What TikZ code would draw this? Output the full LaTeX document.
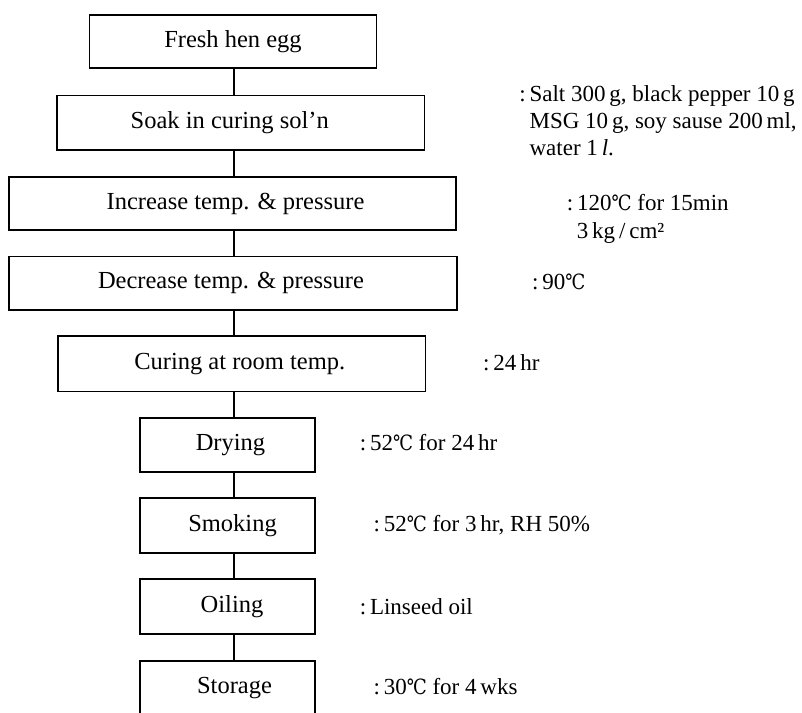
\documentclass[tikz,border=0pt]{standalone}
\usepackage{fontspec}
\usepackage{graphicx}
\setmainfont{Liberation Serif}
\newfontfamily\celsiusfont{DejaVu Serif}
\newcommand{\degC}{\scalebox{0.85}[1]{\celsiusfont\fontsize{21}{24}\selectfont ℃}}
\begin{document}
\begin{tikzpicture}[x=1pt,y=-1pt,
  flowbox/.style={draw, line width=1.4pt, inner sep=0pt, font=\fontsize{24.5}{28}\selectfont},
  conn/.style={line width=1.4pt},
  note/.style={inner sep=0pt, anchor=base west, align=left, font=\fontsize{23}{27.3}\selectfont}]
\useasboundingbox (0,0) rectangle (802,712);
\clip (0,0) rectangle (802,712);
\coordinate (cx) at (234,0);
% boxes
\node[flowbox, minimum width=287pt, minimum height=53pt] (fresh) at (233,41.5) {Fresh hen egg};
\node[flowbox, minimum width=367.5pt, minimum height=54.6pt] (soak) at (240.75,122.7) {Soak in curing sol’n\hspace*{22pt}};
\node[flowbox, minimum width=447pt, minimum height=53pt] (inc) at (232.5,203.5) {\hspace*{6pt}Increase temp. \& pressure};
\node[flowbox, minimum width=448pt, minimum height=53.4pt] (dec) at (233,283.3) {Decrease temp. \& pressure\hspace*{4pt}};
\node[flowbox, minimum width=367.5pt, minimum height=55.5pt] (cure) at (241.75,363.75) {Curing at room temp.\hspace*{4pt}};
\node[flowbox, minimum width=175pt, minimum height=54pt] (dry) at (227.5,445) {\hspace*{6pt}Drying};
\node[flowbox, minimum width=175pt, minimum height=55pt] (smoke) at (227.5,525.5) {\hspace*{10pt}Smoking};
\node[flowbox, minimum width=175pt, minimum height=55pt] (oil) at (227.5,606.5) {\hspace*{9pt}Oiling};
\node[flowbox, minimum width=175pt, minimum height=55pt] (store) at (227.5,688.5) {\hspace*{14pt}Storage};
% connectors
\draw[conn] (fresh.south -| cx) -- (soak.north -| cx);
\draw[conn] (soak.south -| cx) -- (inc.north -| cx);
\draw[conn] (inc.south -| cx) -- (dec.north -| cx);
\draw[conn] (dec.south -| cx) -- (cure.north -| cx);
\draw[conn] (cure.south -| cx) -- (dry.north -| cx);
\draw[conn] (dry.south -| cx) -- (smoke.north -| cx);
\draw[conn] (smoke.south -| cx) -- (oil.north -| cx);
\draw[conn] (oil.south -| cx) -- (store.north -| cx);
% notes
\node[note] (nsoak) at (529.4,155.6) {\llap{:\,}Salt 300\,g, black pepper 10\,g\\MSG 10\,g, soy sause 200\,ml,\\water 1\,\textit{l}.};
\node[note, font=\fontsize{23}{28.7}\selectfont] (ninc) at (566.7,238.7) {:\,120\degC{} for 15min\\\hspace*{10pt}3\,kg\,/\,cm²};
\node[note] (ndec) at (532,289.6) {:\,90\degC};
\node[note] (ncure) at (483,370.4) {:\,24\,hr};
\node[note] (ndry) at (359.6,450.8) {:\,52\degC{} for 24\,hr};
\node[note] (nsmoke) at (373.4,531) {:\,52\degC{} for 3\,hr, RH 50\%};
\node[note] (noil) at (359.6,614) {:\,Linseed oil};
\node[note] (nstore) at (373.4,694.6) {:\,30\degC{} for 4\,wks};
\end{tikzpicture}
\end{document}
